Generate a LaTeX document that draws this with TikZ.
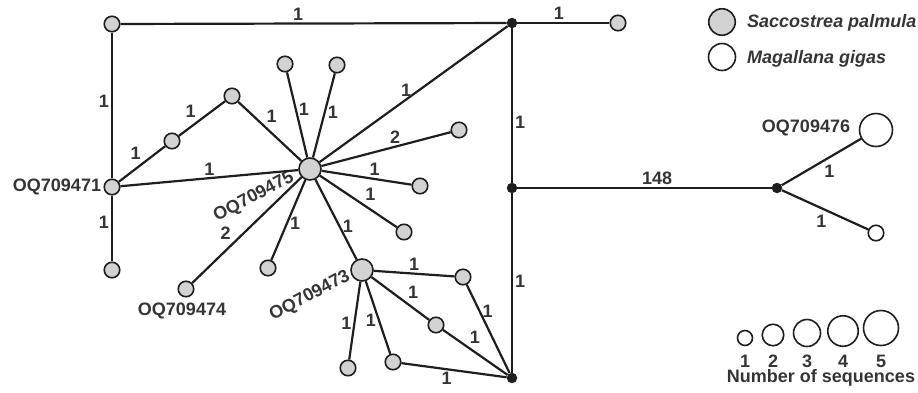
\documentclass[tikz,border=0pt]{standalone}
\usepackage{fontspec}
\setmainfont{Liberation Sans}
\definecolor{HapFill}{HTML}{D2D2D2}
\definecolor{HapLine}{HTML}{1E1E1E}
\definecolor{HapText}{HTML}{353535}

\begin{document}
\begin{tikzpicture}[
    x=1pt, y=-1pt,
    font=\fontsize{18}{21}\selectfont\bfseries,
    hap/.style={circle, draw=HapLine, line width=1.6pt, fill=HapFill,
      inner sep=0pt, minimum size=15.5pt},
    hapbig/.style={hap, minimum size=22pt},
    gigas/.style={hap, fill=white},
    median/.style={circle, fill=HapLine, inner sep=0pt, minimum size=10.5pt},
    link/.style={draw=HapLine, line width=2.2pt},
    lbl/.style={text=HapText, inner sep=2pt},
    tag/.style={text=HapText, inner sep=0pt}
  ]
    \useasboundingbox (0,0) rectangle (918,392);

    % median vectors
    \node[median] (m1) at (512,23) {};
    \node[median] (m2) at (512,188) {};
    \node[median] (m3) at (777,188) {};
    \node[median] (m4) at (512,378) {};

    % Saccostrea palmula haplotypes
    \node[hap] (tl) at (112,24) {};
    \node[hap] (tr) at (618,23) {};
    \node[hap] (q471) at (112,187) {};
    \node[hap] (a1) at (112,270) {};
    \node[hap] (a2) at (172,141) {};
    \node[hap] (a3) at (232,96) {};
    \node[hapbig] (q475) at (310,169) {};
    \node[hap] (b1) at (285,64) {};
    \node[hap] (b2) at (337,65) {};
    \node[hap] (b3) at (459,130) {};
    \node[hap] (b4) at (420,186) {};
    \node[hap] (b5) at (404,232) {};
    \node[hap] (b6) at (268,268) {};
    \node[hap] (q474) at (186,289) {};
    \node[hapbig] (q473) at (362,270) {};
    \node[hap] (c1) at (463,277) {};
    \node[hap] (c2) at (436,325) {};
    \node[hap] (c3) at (393,362) {};
    \node[hap] (c4) at (348,368) {};

    % Magallana gigas haplotypes
    \node[gigas, minimum size=33pt] (q476) at (876,130) {};
    \node[gigas] (w2) at (876,233) {};

    % haplotype names
    \node[tag] at (57,187) {OQ709471};
    \node[tag, rotate=28] at (254,197) {OQ709475};
    \node[tag] at (182,311) {OQ709474};
    \node[tag, rotate=28] at (310,296) {OQ709473};
    \node[tag] at (806,128) {OQ709476};

    % links
    \draw[link] (tl) -- node[lbl,pos=0.46,above]{1} (m1);
    \draw[link] (tl) -- node[lbl,pos=0.47,left]{1} (q471);
    \draw[link] (m1) -- node[lbl,pos=0.45,above]{1} (tr);
    \draw[link] (m1) -- node[lbl,pos=0.61,right]{1} (m2);
    \draw[link] (m2) -- node[lbl,pos=0.49,right]{1} (m4);
    \draw[link] (m2) -- node[lbl,pos=0.55,above]{148} (m3);
    \draw[link] (m3) -- node[lbl,pos=0.5,below right]{1} (q476);
    \draw[link] (m3) -- node[lbl,pos=0.55,below left]{1} (w2);
    \draw[link] (q475) -- node[lbl,pos=0.46,above]{1} (m1);
    \draw[link] (q475) -- node[lbl,pos=0.57,above]{2} (b3);
    \draw[link] (q475) -- node[lbl,pos=0.59,above]{1} (b4);
    \draw[link] (q475) -- node[lbl,pos=0.55,above right]{1} (b5);
    \draw[link] (q475) -- node[lbl,pos=0.54,right]{1} (b6);
    \draw[link] (q475) -- node[lbl,pos=0.62,above left]{2} (q474);
    \draw[link] (q475) -- node[lbl,pos=0.59,right]{1} (q473);
    \draw[link] (q475) -- node[lbl,pos=0.57,right]{1} (b1);
    \draw[link] (q475) -- node[lbl,pos=0.54,right]{1} (b2);
    \draw[link] (q475) -- node[lbl,pos=0.6,above right]{1} (a3);
    \draw[link] (q475) -- node[lbl,pos=0.5,above]{1} (q471);
    \draw[link] (q471) -- node[lbl,pos=0.54,above left]{1} (a2);
    \draw[link] (a2) -- node[lbl,pos=0.43,above left]{1} (a3);
    \draw[link] (q471) -- node[lbl,pos=0.4,left]{1} (a1);
    \draw[link] (q473) -- node[lbl,pos=0.5,above]{1} (c1);
    \draw[link] (q473) -- node[lbl,pos=0.58,above right]{1} (c2);
    \draw[link] (q473) -- node[lbl,pos=0.53,left]{1} (c4);
    \draw[link] (q473) -- node[lbl,pos=0.54,left]{1} (c3);
    \draw[link] (c1) -- node[lbl,pos=0.3,right]{1} (m4);
    \draw[link] (c2) -- node[lbl,pos=0.37,above right]{1} (m4);
    \draw[link] (c3) -- node[lbl,pos=0.43,below]{1} (m4);

    % legend: species
    \node[hap, minimum size=26.5pt] (keyS) at (722,22) {};
    \node[gigas, minimum size=27pt] (keyM) at (722,57) {};
    \node[tag, anchor=base west] at (747,27) {\itshape Saccostrea palmula};
    \node[tag, anchor=base west] at (747,63) {\itshape Magallana gigas};

    % legend: number of sequences
    \node[gigas, minimum size=15pt] (n1) at (745,338) {};
    \node[gigas, minimum size=21.5pt] (n2) at (773,335) {};
    \node[gigas, minimum size=27pt] (n3) at (807,333) {};
    \node[gigas, minimum size=30.5pt] (n4) at (843,331) {};
    \node[gigas, minimum size=35pt] (n5) at (881,328) {};
    \foreach \k/\x in {1/745,2/773,3/807,4/843,5/881}
      \node[tag] at (\x,361) {\k};
    \node[tag] at (821,378) {Number of sequences};
  \end{tikzpicture}
\end{document}
